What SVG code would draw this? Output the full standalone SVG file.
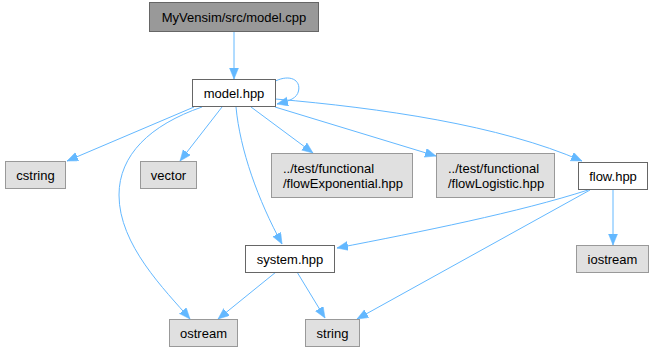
<svg xmlns="http://www.w3.org/2000/svg" width="654" height="352" viewBox="0 0 654 352">
  <style>
    .lbl { font-family: "Liberation Sans", Arial, sans-serif; font-size: 13px; fill: #000000; }
    .c { text-anchor: middle; }
    .root { fill: #999999; stroke: #666666; stroke-width: 1; }
    .own { fill: #ffffff; stroke: #666666; stroke-width: 1; }
    .ext { fill: #e0e0e0; stroke: #999999; stroke-width: 1; }
    .edge { fill: none; stroke: #63b8ff; stroke-width: 1; marker-end: url(#arr); }
  </style>
  <defs>
    <marker id="arr" markerUnits="userSpaceOnUse" markerWidth="12" markerHeight="10" refX="11" refY="4.5" orient="auto">
      <path d="M0,0 L11,4.5 L0,9 Z" fill="#63b8ff" stroke="#63b8ff" stroke-width="0.5"/>
    </marker>
  </defs>
  <rect width="654" height="352" fill="#ffffff"/>

  <g id="edges">
    <path class="edge" d="M234,32 L234,79"/>
    <path class="edge" d="M275.5,81 C290,74 301,80 298.5,91 C297,98 290,101 277,104"/>
    <path class="edge" d="M194,107 L67,161"/>
    <path class="edge" d="M222,107 L180,161"/>
    <path class="edge" d="M251,107 L313,153"/>
    <path class="edge" d="M275,107 L436,156"/>
    <path class="edge" d="M275.5,99 C380,108 500,125 582,161"/>
    <path class="edge" d="M236,107 C240,150 258,200 282,244"/>
    <path class="edge" d="M202,107 C150,125 119,155 119,195 C119,245 165,290 190,319"/>
    <path class="edge" d="M276,272 L218,319"/>
    <path class="edge" d="M297,272 L325,318"/>
    <path class="edge" d="M588,190 C520,212 420,232 337,248"/>
    <path class="edge" d="M590,190 L357,319"/>
    <path class="edge" d="M613,190 L613,245"/>
  </g>

  <g id="model_cpp">
    <rect class="root" x="149.5" y="2.5" width="169" height="29"/>
    <text class="lbl c" x="234" y="21.5">MyVensim/src/model.cpp</text>
  </g>
  <g id="model_hpp">
    <rect class="own" x="192.5" y="79.5" width="83" height="27"/>
    <text class="lbl c" x="234" y="97.5">model.hpp</text>
  </g>
  <g id="cstring">
    <rect class="ext" x="5.5" y="161.5" width="60" height="27"/>
    <text class="lbl c" x="35.5" y="179.5">cstring</text>
  </g>
  <g id="vector">
    <rect class="ext" x="140.5" y="161.5" width="56" height="27"/>
    <text class="lbl c" x="168.5" y="179.5">vector</text>
  </g>
  <g id="flowExponential_hpp">
    <rect class="ext" x="271.5" y="153.5" width="141" height="44"/>
    <text class="lbl" x="283" y="173">../test/functional</text>
    <text class="lbl" x="283" y="188">/flowExponential.hpp</text>
  </g>
  <g id="flowLogistic_hpp">
    <rect class="ext" x="436.5" y="153.5" width="118" height="44"/>
    <text class="lbl" x="448" y="173">../test/functional</text>
    <text class="lbl" x="448" y="188">/flowLogistic.hpp</text>
  </g>
  <g id="flow_hpp">
    <rect class="own" x="578.5" y="162.5" width="69" height="27"/>
    <text class="lbl c" x="613" y="180.5">flow.hpp</text>
  </g>
  <g id="system_hpp">
    <rect class="own" x="245.5" y="245.5" width="89" height="27"/>
    <text class="lbl c" x="290" y="263.5">system.hpp</text>
  </g>
  <g id="iostream">
    <rect class="ext" x="576.5" y="245.5" width="72" height="27"/>
    <text class="lbl c" x="612.5" y="263.5">iostream</text>
  </g>
  <g id="ostream">
    <rect class="ext" x="169.5" y="319.5" width="68" height="27"/>
    <text class="lbl c" x="203.5" y="337.5">ostream</text>
  </g>
  <g id="string">
    <rect class="ext" x="305.5" y="319.5" width="54" height="27"/>
    <text class="lbl c" x="332.5" y="337.5">string</text>
  </g>
</svg>
